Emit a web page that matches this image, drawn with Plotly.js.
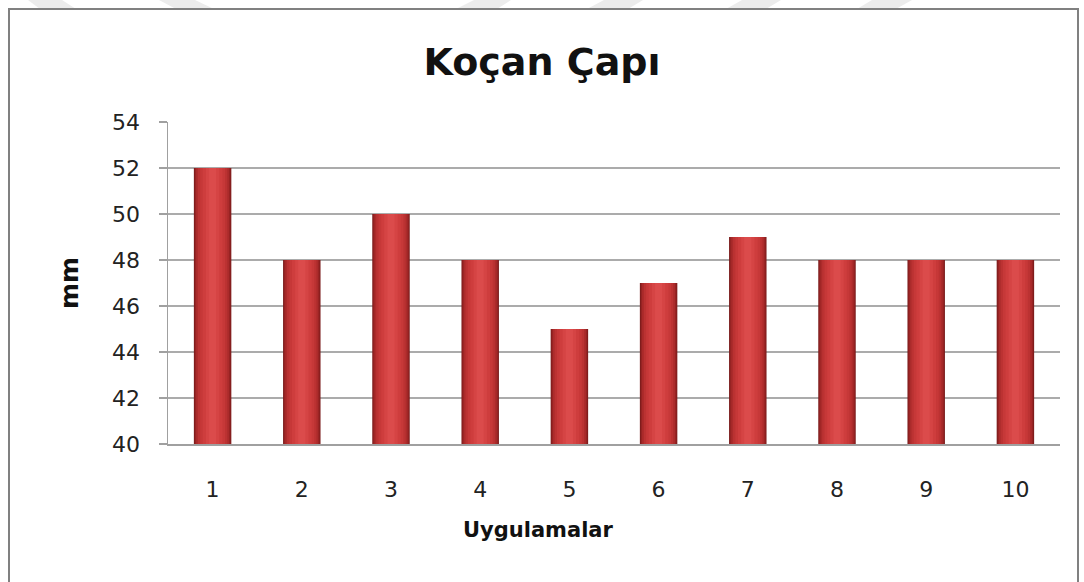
<!DOCTYPE html>
<html>
<head>
<meta charset="utf-8">
<script src="https://cdn.plot.ly/plotly-3.0.1.min.js"></script>
<style>html,body{margin:0;padding:0;background:#fff;}#chart{width:1084px;height:582px;}</style>
</head>
<body>
<div id="chart"></div>
<script>
const categories = ["1","2","3","4","5","6","7","8","9","10"];
const values = [52, 48, 50, 48, 45, 47, 49, 48, 48, 48];
const yTicks = [40, 42, 44, 46, 48, 50, 52, 54];

const W = 1084, H = 582;
const L = 168, R = 1060, T = 122, B = 444;
const px = x => (x - L) / (R - L);
const py = y => (B - y) / (B - T);

// layered bars to imitate the shaded cylinder look
const layers = [
  {w: 0.42, c: "#7a1b1b"},
  {w: 0.40, c: "#962323"},
  {w: 0.37, c: "#ab2b2b"},
  {w: 0.33, c: "#bb3232"},
  {w: 0.28, c: "#c63838"},
  {w: 0.22, c: "#ce3d3d"},
  {w: 0.15, c: "#d54444"},
  {w: 0.08, c: "#db4b4b"}
];
const traces = layers.map(l => ({
  type: "bar", x: categories, y: values, width: l.w,
  marker: {color: l.c, line: {width: 0}},
  hoverinfo: "x+y", showlegend: false
}));

function quad(pts){ return "M" + pts.map(p => px(p[0]) + "," + py(p[1])).join(" L") + " Z"; }
const stripes = [
  [[28,0],[62,0],[76,9],[40,9]],
  [[159,0],[195,0],[214,9],[176,9]],
  [[474,0],[511,0],[497,9],[456,9]],
  [[604,0],[643,0],[628,9],[587,9]],
  [[742,0],[781,0],[766,9],[726,9]],
  [[872,0],[912,0],[896,9],[857,9]]
];
const shapes = stripes.map(s => ({type:"path", xref:"paper", yref:"paper", path: quad(s),
  fillcolor:"#ececec", line:{width:0}, layer:"below"}));
shapes.push({type:"rect", xref:"paper", yref:"paper",
  x0: px(9), x1: px(1078), y0: py(600), y1: py(9),
  line:{color:"#808080", width:2}, fillcolor:"rgba(0,0,0,0)"});

const FONT = "DejaVu Sans, sans-serif";
const layout = {
  width: W, height: H,
  margin: {l: L, r: W - R, t: T, b: H - B, pad: 0},
  paper_bgcolor: "#ffffff", plot_bgcolor: "#ffffff",
  barmode: "overlay",
  font: {family: FONT, color: "#333333"},
  title: {text: "Koçan Çapı", x: 0.5, xref: "container", y: 1 - 62/H, yanchor: "middle",
    font: {family: FONT, size: 38, color: "#111111", weight: "bold"}},
  xaxis: {
    type: "category", range: [-0.5, 9.5],
    showgrid: false, zeroline: false,
    showline: true, linecolor: "#a0a0a0", linewidth: 1.5,
    ticks: "", ticklabelstandoff: 25,
    tickfont: {family: FONT, size: 22, color: "#222222"}
  },
  yaxis: {
    range: [40, 54], tickvals: yTicks, ticktext: yTicks.map(String),
    showgrid: true, gridcolor: "#ababab", gridwidth: 1.5,
    zeroline: false, showline: true, linecolor: "#a0a0a0", linewidth: 1.5,
    ticks: "outside", ticklen: 8, tickcolor: "#a0a0a0", tickwidth: 1.5,
    ticklabelstandoff: 14,
    tickfont: {family: FONT, size: 22, color: "#222222"},
    title: {text: "mm", standoff: 26, font: {family: FONT, size: 25, color: "#111111", weight: "bold"}}
  },
  annotations: [{
    text: "<b>Uygulamalar</b>", xref: "paper", yref: "paper",
    x: px(538), y: py(530), xanchor: "center", yanchor: "middle", showarrow: false,
    font: {family: FONT, size: 21, color: "#111111"}
  }],
  shapes: shapes
};

Plotly.newPlot("chart", traces, layout, {displayModeBar: false, staticPlot: true});
</script>
</body>
</html>
